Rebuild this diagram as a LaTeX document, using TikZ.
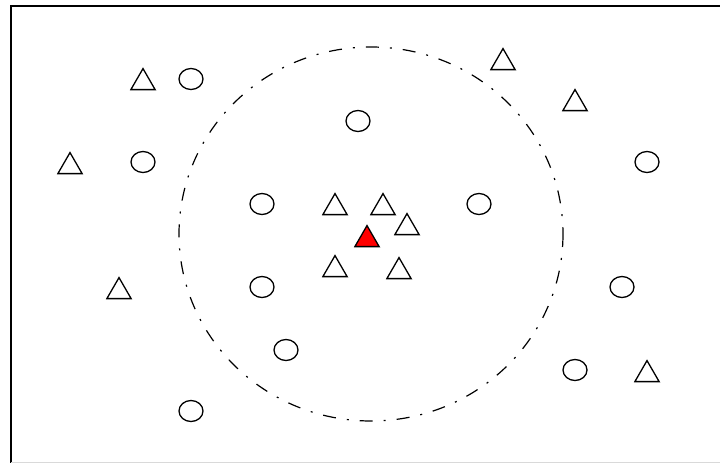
\documentclass[tikz,border=0pt]{standalone}
\usetikzlibrary{shapes.geometric}
\begin{document}
\begin{tikzpicture}[x=1pt,y=-1pt,
  tri/.style={draw=black,line width=1.3pt,regular polygon,regular polygon sides=3,minimum size=28pt,inner sep=0pt,outer sep=0pt},
  circ/.style={draw=black,line width=1.3pt,ellipse,minimum width=24pt,minimum height=21pt,inner sep=0pt,outer sep=0pt},
  region/.style={draw=black,line width=1.2pt,dash pattern=on 13pt off 11pt on 2pt off 11pt}]
\useasboundingbox (0,0) rectangle (720,463);
% frame
\draw[black,line width=1.5pt] (11,463) -- (11,6) -- (720,6);
\draw[black!15,line width=1pt] (11,462) -- (720,462);
% neighbourhood
\draw[region] (371,234) ellipse [x radius=192, y radius=187];
% triangles (node centre = centroid, 3.6 below box centre)
\node[tri] (t1) at (143,82.6) {};
\node[tri] (t2) at (70,166.6) {};
\node[tri] (t3) at (119,291.6) {};
\node[tri] (t4) at (503,62.6) {};
\node[tri] (t5) at (575,103.6) {};
\node[tri] (t6) at (647,374.6) {};
\node[tri] (t7) at (335,207.6) {};
\node[tri] (t8) at (383,207.6) {};
\node[tri] (t9) at (407,227.6) {};
\node[tri] (t10) at (335,269.6) {};
\node[tri] (t11) at (399,271.6) {};
\node[tri,fill=red] (t0) at (367,239.6) {};
% circles
\node[circ] (c1) at (191,79) {};
\node[circ] (c2) at (143,162) {};
\node[circ] (c3) at (262,204) {};
\node[circ] (c4) at (358,121) {};
\node[circ] (c5) at (479,204) {};
\node[circ] (c6) at (647,162) {};
\node[circ] (c7) at (262,287) {};
\node[circ] (c8) at (622,287) {};
\node[circ] (c9) at (286,350) {};
\node[circ] (c10) at (575,370) {};
\node[circ] (c11) at (191,411) {};
\end{tikzpicture}
\end{document}
